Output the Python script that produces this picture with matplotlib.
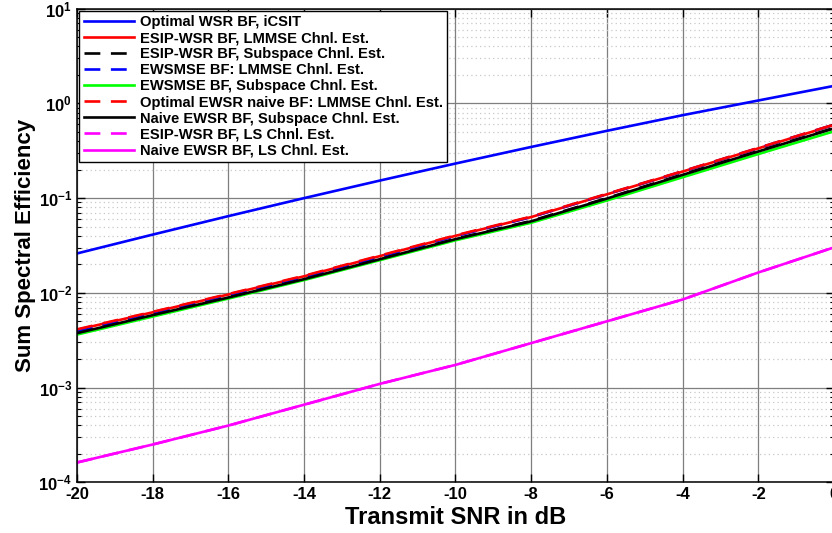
import matplotlib
matplotlib.use("Agg")
import matplotlib.pyplot as plt
from matplotlib.ticker import FixedLocator, LogLocator, NullFormatter, FuncFormatter
import numpy as np

plt.rcParams['font.family'] = ['Liberation Sans', 'DejaVu Sans']
plt.rcParams['font.weight'] = 'bold'
plt.rcParams['axes.unicode_minus'] = False
plt.rcParams['mathtext.fontset'] = 'custom'
plt.rcParams['mathtext.rm'] = 'Liberation Sans:bold'
plt.rcParams['mathtext.bf'] = 'Liberation Sans:bold'
plt.rcParams['mathtext.default'] = 'bf'

# transmit SNR in dB
snr = [-20, -18, -16, -14, -12, -10, -8, -6, -4, -2, 0]

# sum spectral efficiency per scheme
wsr_icsit = [0.02606, 0.04121, 0.06457, 0.1, 0.1531, 0.2317, 0.3467, 0.5129, 0.7499, 1.072, 1.528]
esip_lmmse = [0.004074, 0.006237, 0.009616, 0.01496, 0.02443, 0.03999, 0.06310, 0.1096, 0.1905, 0.3350, 0.5916]
esip_subspace = [0.003802, 0.005888, 0.009016, 0.01413, 0.02291, 0.03715, 0.05754, 0.1, 0.1778, 0.3141, 0.5495]
ewsmse_lmmse = [0.003981, 0.006166, 0.009550, 0.01479, 0.02415, 0.03981, 0.06310, 0.1102, 0.1914, 0.3373, 0.5957]
ewsmse_subspace = [0.003631, 0.005623, 0.008710, 0.01365, 0.02213, 0.03589, 0.05495, 0.09441, 0.1660, 0.2917, 0.5070]
naive_lmmse = [0.004121, 0.006310, 0.009727, 0.01514, 0.02472, 0.04046, 0.06383, 0.1109, 0.1923, 0.3388, 0.5970]
naive_subspace = [0.003758, 0.005821, 0.008933, 0.01396, 0.02265, 0.03690, 0.05689, 0.09886, 0.1758, 0.3105, 0.5445]
esip_ls = [0.0001622, 0.0002512, 0.0003981, 0.0006607, 0.001096, 0.001738, 0.002951, 0.005012, 0.008511, 0.01641, 0.03020]
naive_ls = [0.0001622, 0.0002512, 0.0003981, 0.0006607, 0.001096, 0.001738, 0.002951, 0.005012, 0.008511, 0.01641, 0.03020]

labels = ['Optimal WSR BF, iCSIT',
          'ESIP-WSR BF, LMMSE Chnl. Est.',
          'ESIP-WSR BF, Subspace Chnl. Est.',
          'EWSMSE BF: LMMSE Chnl. Est.',
          'EWSMSE BF, Subspace Chnl. Est.',
          'Optimal EWSR naive BF: LMMSE Chnl. Est.',
          'Naive EWSR BF, Subspace Chnl. Est.',
          'ESIP-WSR BF, LS Chnl. Est.',
          'Naive EWSR BF, LS Chnl. Est.']

dash = (0, (6, 4))
lw = 1.9

fig = plt.figure(figsize=(8.32, 5.33), dpi=100)
ax = fig.add_axes([0.0925, 0.0949, 0.9099, 0.889])

ax.plot(snr, wsr_icsit, color='#0000ff', lw=lw, label=labels[0])
ax.plot(snr, esip_lmmse, color='#ff0000', lw=lw, label=labels[1])
ax.plot(snr, esip_subspace, color='black', lw=lw, ls=dash, label=labels[2])
ax.plot(snr, ewsmse_lmmse, color='#0000ff', lw=lw, ls=dash, label=labels[3])
ax.plot(snr, ewsmse_subspace, color='#00ff00', lw=lw, label=labels[4])
ax.plot(snr, naive_lmmse, color='#ff0000', lw=lw, ls=dash, label=labels[5])
ax.plot(snr, naive_subspace, color='black', lw=lw, label=labels[6])
ax.plot(snr, esip_ls, color='#ff00ff', lw=lw, ls=dash, label=labels[7])
ax.plot(snr, naive_ls, color='#ff00ff', lw=lw, label=labels[8])

ax.set_yscale('log')
ax.set_xlim(-20, 0)
ax.set_ylim(1e-4, 1e1)
ax.xaxis.set_major_locator(FixedLocator(snr))
ax.yaxis.set_major_locator(LogLocator(base=10, numticks=10))
ax.yaxis.set_minor_locator(LogLocator(base=10, subs=np.arange(2, 10), numticks=20))
ax.yaxis.set_minor_formatter(NullFormatter())
ax.yaxis.set_major_formatter(FuncFormatter(lambda v, p: r'$\mathbf{10^{%d}}$' % int(round(np.log10(v)))))

ax.grid(True, which='major', color='#7f7f7f', lw=0.9, ls='-')
ax.grid(True, which='minor', axis='y', color='#c8c8c8', lw=0.9, ls=(0, (1, 2.5)))
ax.set_axisbelow(True)

ax.tick_params(which='both', direction='in', top=True, right=True, labelsize=12)
ax.tick_params(which='major', length=6, width=1)
ax.tick_params(which='minor', length=3, width=0.8)
for lab in ax.get_xticklabels() + ax.get_yticklabels():
    lab.set_fontweight('bold')
for sp in ax.spines.values():
    sp.set_linewidth(1.1)

ax.set_xlabel('Transmit SNR in dB', fontsize=17, fontweight='bold', labelpad=3)
ax.set_ylabel('Sum Spectral Efficiency', fontsize=16, fontweight='bold', labelpad=2)

leg = ax.legend(loc='upper left', fontsize=10.6, handlelength=3.4, handletextpad=0.4,
                labelspacing=0.14, borderaxespad=0.15, borderpad=0.3,
                fancybox=False, framealpha=1, edgecolor='black')
leg.get_frame().set_linewidth(1.0)
for t in leg.get_texts():
    t.set_fontweight('bold')

fig.savefig('out.png', dpi=100)
